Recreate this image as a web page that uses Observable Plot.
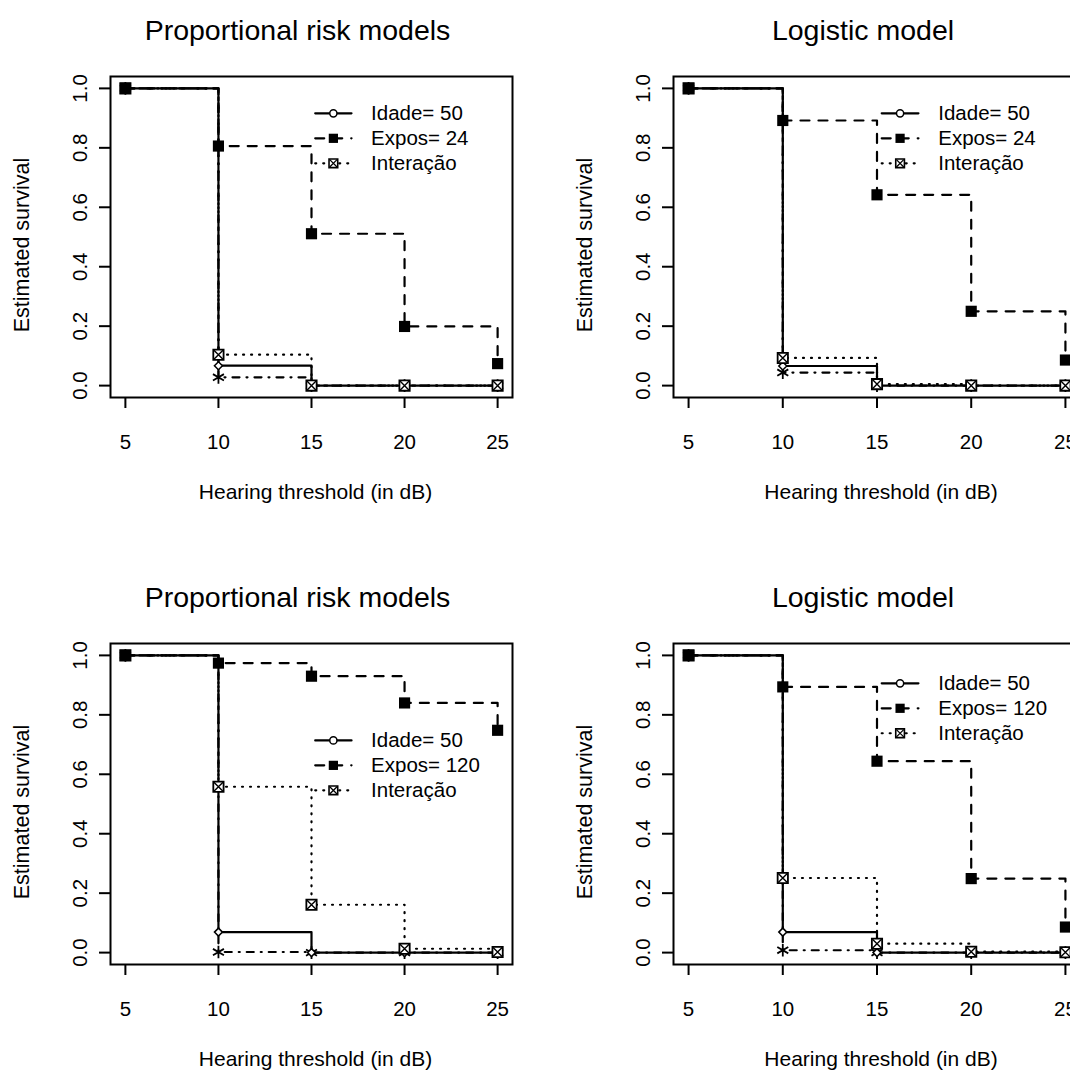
<!DOCTYPE html>
<html><head><meta charset="utf-8">
<script src="https://cdn.jsdelivr.net/npm/d3@7"></script>
<script src="https://cdn.jsdelivr.net/npm/@observablehq/plot@0.6"></script>
<style>
html,body{margin:0;padding:0;background:#fff;overflow:hidden;}
#wrap{position:relative;width:1070px;height:1070px;overflow:hidden;background:#fff;}
.panel{position:absolute;}
</style></head><body><div id="wrap"></div>
<script>
// ---- data ----
const thresholds = [5, 10, 15, 20, 25];
const yTicks = [0, 0.2, 0.4, 0.6, 0.8, 1.0];
const panelTitles = ["Proportional risk models", "Logistic model", "Proportional risk models", "Logistic model"];
const xLabel = "Hearing threshold (in dB)";
const yLabel = "Estimated survival";
const idadeLabel = "Idade= 50";
const exposLabels = ["Expos= 24", "Expos= 24", "Expos= 120", "Expos= 120"];
const interLabel = "Interação";
// survival by panel: top-left, top-right, bottom-left, bottom-right
const idade = [
  [1, 0.067, 0, 0, 0],
  [1, 0.066, 0, 0, 0],
  [1, 0.069, 0, 0, 0],
  [1, 0.069, 0, 0, 0]
];
const expos = [
  [1, 0.806, 0.511, 0.199, 0.074],
  [1, 0.892, 0.642, 0.250, 0.086],
  [1, 0.974, 0.930, 0.840, 0.748],
  [1, 0.894, 0.644, 0.249, 0.086]
];
const interacao = [
  [1, 0.104, 0, 0, 0],
  [1, 0.093, 0.005, 0, 0],
  [1, 0.558, 0.161, 0.013, 0.002],
  [1, 0.251, 0.030, 0.003, 0.001]
];
const combined = [
  [1, 0.028, 0, 0, 0],
  [1, 0.044, 0, 0, 0],
  [1, 0.002, 0, 0, 0],
  [1, 0.008, 0, 0, 0]
];
// legend anchor (data units) for each panel, like R's legend(x, y)
const legendX = [15.2, 15.25, 15.2, 15.25];
const legendY = [0.916, 0.916, 0.714, 0.906];
const legendStep = 0.084;

// ---- layout ----
const panelPos = [[0, 0], [565, 0], [0, 567], [565, 567]];
const panelW = [565, 567, 565, 567];
const frameW = [402, 407, 402, 407];
const marginL = [110, 108, 110, 108];
const font = "'Liberation Sans', Arial, Helvetica, sans-serif";

const DASH = "9,9", DOT = "1,7", DASHDOT = "7,7,1,7";
const LW = 2.2;

const wrap = document.getElementById("wrap");

for (let p = 0; p < 4; p++) {
  const rows = (arr) => thresholds.map((t, i) => ({x: t, y: arr[p][i]}));
  const sId = rows(idade), sEx = rows(expos), sIn = rows(interacao), sCo = rows(combined);
  const lx = legendX[p];
  const lys = [0, 1, 2].map(k => legendY[p] - k * legendStep);
  const legRows = [
    {label: idadeLabel, dash: null, y: lys[0]},
    {label: exposLabels[p], dash: DASH, y: lys[1]},
    {label: interLabel, dash: DOT, y: lys[2]}
  ];
  const legLine = (r) => [{x: lx, y: r.y}, {x: lx + 1.95, y: r.y}];
  const legMid = legRows.map(r => ({x: lx + 0.975, y: r.y}));

  const chart = Plot.plot({
    width: panelW[p],
    height: 567,
    marginLeft: marginL[p],
    marginRight: panelW[p] - marginL[p] - frameW[p],
    marginTop: 76,
    marginBottom: 170,
    x: {domain: [4.2, 25.8]},
    y: {domain: [-0.04, 1.04]},
    style: {fontFamily: font, background: "white", color: "black", overflow: "visible"},
    marks: [
      // step curves
      Plot.line(sCo, {x: "x", y: "y", curve: "step-after", stroke: "black", strokeWidth: LW, strokeDasharray: DASHDOT}),
      Plot.line(sIn, {x: "x", y: "y", curve: "step-after", stroke: "black", strokeWidth: LW, strokeDasharray: DOT}),
      Plot.line(sEx, {x: "x", y: "y", curve: "step-after", stroke: "black", strokeWidth: LW, strokeDasharray: DASH}),
      Plot.line(sId, {x: "x", y: "y", curve: "step-after", stroke: "black", strokeWidth: LW}),
      // points
      Plot.dot(sCo, {x: "x", y: "y", symbol: "asterisk", r: 6, stroke: "black", strokeWidth: 1.8}),
      Plot.dot(sId, {x: "x", y: "y", symbol: "diamond2", r: 3.6, fill: "white", stroke: "black", strokeWidth: 1.5}),
      Plot.dot(sIn, {x: "x", y: "y", symbol: "square", r: 5.8, fill: "white", stroke: "black", strokeWidth: 1.8}),
      Plot.dot(sIn, {x: "x", y: "y", symbol: "times", r: 4.2, stroke: "black", strokeWidth: 1.4}),
      Plot.dot(sEx, {x: "x", y: "y", symbol: "square", r: 6.3, fill: "black", stroke: "none"}),
      // legend (no box)
      ...legRows.map(r => Plot.line(legLine(r), {x: "x", y: "y", stroke: "black", strokeWidth: LW, strokeDasharray: r.dash ?? undefined})),
      Plot.dot([legMid[0]], {x: "x", y: "y", symbol: "circle", r: 3.6, fill: "white", stroke: "black", strokeWidth: 1.5}),
      Plot.dot([legMid[1]], {x: "x", y: "y", symbol: "square", r: 5.2, fill: "black", stroke: "none"}),
      Plot.dot([legMid[2]], {x: "x", y: "y", symbol: "square", r: 4.9, fill: "white", stroke: "black", strokeWidth: 1.6}),
      Plot.dot([legMid[2]], {x: "x", y: "y", symbol: "times", r: 3.4, stroke: "black", strokeWidth: 1.3}),
      Plot.text(legRows, {x: () => lx + 3.0, y: "y", text: "label", textAnchor: "start", lineAnchor: "middle", fontSize: 20.5, fill: "black"}),
      // frame & axes
      Plot.frame({stroke: "black", strokeWidth: 2}),
      Plot.axisX(thresholds, {tickSize: 11, tickFormat: () => "", strokeWidth: 2, label: null}),
      Plot.axisY(yTicks, {tickSize: 11, tickFormat: () => "", strokeWidth: 2, label: null}),
      Plot.text(thresholds, {x: d => d, text: d => String(d), frameAnchor: "bottom", textAnchor: "middle", lineAnchor: "middle", dy: 45, fontSize: 20.5, fill: "black"}),
      Plot.text(yTicks, {y: d => d, text: d => d.toFixed(1), frameAnchor: "left", textAnchor: "middle", lineAnchor: "middle", dx: -30, rotate: -90, fontSize: 20.5, fill: "black"}),
      Plot.text([xLabel], {text: d => d, frameAnchor: "bottom", textAnchor: "middle", lineAnchor: "middle", dy: 95, dx: 4, fontSize: 21, fill: "black"}),
      Plot.text([yLabel], {text: d => d, frameAnchor: "left", textAnchor: "middle", lineAnchor: "middle", dx: -88, dy: 8, rotate: -90, fontSize: 21.5, fill: "black"}),
      Plot.text([panelTitles[p]], {text: d => d, frameAnchor: "top", textAnchor: "middle", lineAnchor: "middle", dy: -46, dx: -14, fontSize: 28.5, fill: "black"})
    ]
  });
  chart.classList.add("panel");
  chart.style.left = panelPos[p][0] + "px";
  chart.style.top = panelPos[p][1] + "px";
  wrap.appendChild(chart);
}
</script>
</body></html>
